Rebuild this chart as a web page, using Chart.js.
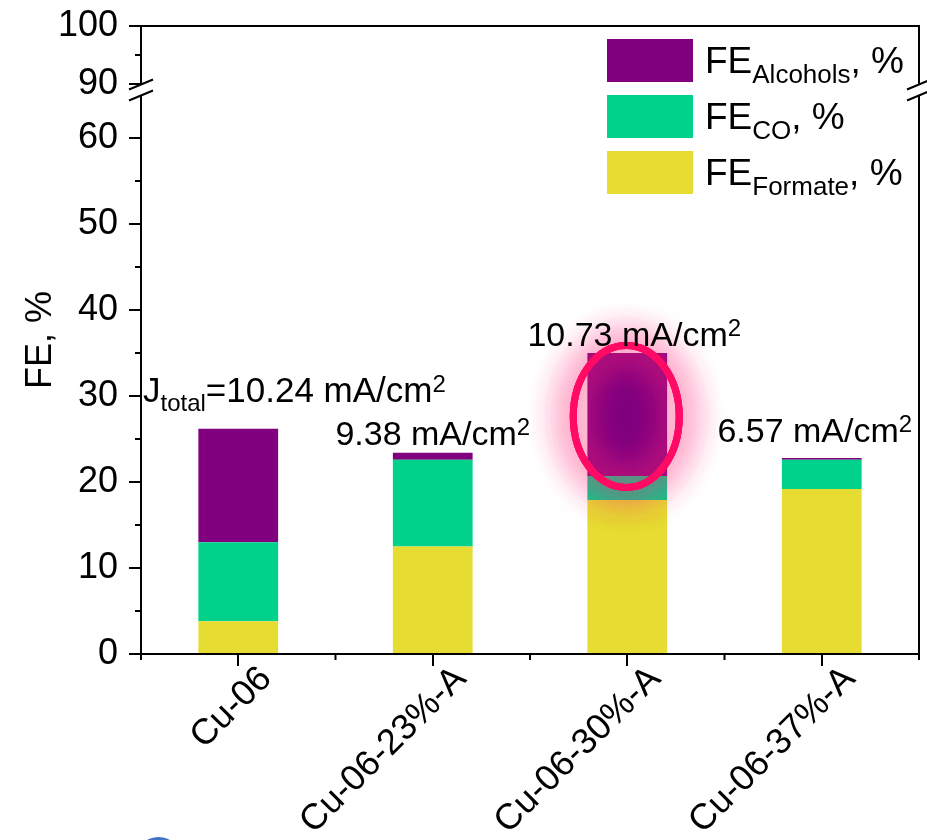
<!DOCTYPE html>
<html>
<head>
<meta charset="utf-8">
<script src="https://cdn.jsdelivr.net/npm/chart.js@4.4.1/dist/chart.umd.min.js"></script>
<style>
html, body { margin: 0; padding: 0; overflow: hidden; background: #fff; }
#wrap { width: 927px; height: 900px; }
</style>
</head>
<body>
<div id="wrap"><canvas id="chart" width="927" height="900"></canvas></div>
<script>
var categories = ['Cu-06', 'Cu-06-23%-A', 'Cu-06-30%-A', 'Cu-06-37%-A'];
var feFormate = [3.8, 12.5, 17.9, 19.2];
var feCO = [9.2, 10.1, 2.8, 3.4];
var feAlcohols = [13.2, 0.8, 14.3, 0.2];
var jTotal = [10.24, 9.38, 10.73, 6.57];
var yTicks = [0, 10, 20, 30, 40, 50, 60];
var yMinor = [5, 15, 25, 35, 45, 55];
var y2Ticks = [90, 100];
var y2Minor = [95];

var FONT = 'Arial, "Liberation Sans", sans-serif';

// split "FE_{CO}, %" into plain / sub / sup pieces
function parseRich(str) {
    var parts = [], re = /([_^])\{([^}]*)\}/g, last = 0, m;
    while ((m = re.exec(str))) {
        if (m.index > last) parts.push({ t: str.slice(last, m.index), k: '' });
        parts.push({ t: m[2], k: m[1] });
        last = re.lastIndex;
    }
    if (last < str.length) parts.push({ t: str.slice(last), k: '' });
    return parts;
}

function drawRich(ctx, str, x, y, size, small, align) {
    var parts = parseRich(str), w = 0;
    parts.forEach(function (p) {
        ctx.font = (p.k ? small : size) + 'px ' + FONT;
        p.w = ctx.measureText(p.t).width;
        w += p.w;
    });
    if (align === 'center') x -= w / 2;
    ctx.textAlign = 'left';
    ctx.textBaseline = 'alphabetic';
    parts.forEach(function (p) {
        ctx.font = (p.k ? small : size) + 'px ' + FONT;
        var dy = p.k === '_' ? size * 0.27 : (p.k === '^' ? -size * 0.29 : 0);
        ctx.fillText(p.t, x, y + dy);
        x += p.w;
    });
}

function breakMark(ctx, x, y) {
    var dx = 12, dy = 5, gap = 5.5;
    ctx.fillStyle = '#fff';
    ctx.beginPath();
    ctx.moveTo(x - dx, y - gap + dy);
    ctx.lineTo(x + dx, y - gap - dy);
    ctx.lineTo(x + dx, y + gap - dy);
    ctx.lineTo(x - dx, y + gap + dy);
    ctx.closePath();
    ctx.fill();
    ctx.strokeStyle = '#000';
    ctx.lineWidth = 2;
    ctx.beginPath();
    ctx.moveTo(x - dx, y - gap + dy); ctx.lineTo(x + dx, y - gap - dy);
    ctx.moveTo(x - dx, y + gap + dy); ctx.lineTo(x + dx, y + gap - dy);
    ctx.stroke();
}

/* highlight ring + current density notes */
var notes = {
    id: 'notes',
    afterDatasetsDraw: function (chart, args, opts) {
        var ctx = chart.ctx;
        var tops = chart.getDatasetMeta(2).data;
        var hl = tops[opts.highlight];

        ctx.save();
        ctx.strokeStyle = '#ff0a64';
        ctx.lineWidth = 7;
        ctx.shadowColor = 'rgba(255, 40, 120, 0.85)';
        ctx.shadowBlur = 36;
        ctx.beginPath();
        ctx.ellipse(hl.x - 1, (hl.y + hl.base) / 2 + 2, 53, 71, 0, 0, Math.PI * 2);
        ctx.stroke();
        ctx.stroke();
        ctx.stroke();
        ctx.restore();

        ctx.save();
        ctx.fillStyle = '#000';
        jTotal.forEach(function (j, i) {
            var bar = tops[i];
            var txt = j.toFixed(2) + ' mA/cm^{2}';
            var y = bar.y - opts.gap[i];
            if (i === 0) drawRich(ctx, 'J_{total}=' + txt, chart.chartArea.left + 2, y, 35, 24, 'left');
            else drawRich(ctx, txt, bar.x + opts.shift[i], y, 34, 24, 'center');
        });
        ctx.restore();
    }
};

/* frame, axis breaks, minor ticks, title and legend */
var frame = {
    id: 'frame',
    afterDraw: function (chart) {
        var ctx = chart.ctx, a = chart.chartArea;
        var y = chart.scales.y, y2 = chart.scales.y2, x = chart.scales.x;
        var brk = y.top;
        var top = y2.getPixelForValue(100);

        ctx.save();
        ctx.strokeStyle = '#000';
        ctx.lineWidth = 2;
        ctx.beginPath();
        ctx.moveTo(a.left - 12, top);
        ctx.lineTo(a.right + 1, top);
        ctx.moveTo(a.right, top);
        ctx.lineTo(a.right, a.bottom);
        ctx.stroke();

        // minor ticks
        ctx.beginPath();
        yMinor.forEach(function (v) {
            var p = y.getPixelForValue(v);
            ctx.moveTo(a.left - 6, p); ctx.lineTo(a.left, p);
        });
        y2Minor.forEach(function (v) {
            var p = y2.getPixelForValue(v);
            ctx.moveTo(a.left - 6, p); ctx.lineTo(a.left, p);
        });
        for (var i = 0; i <= categories.length; i++) {
            var px = x.getPixelForValue(i - 0.5);
            ctx.moveTo(px, a.bottom); ctx.lineTo(px, a.bottom + 6);
        }
        ctx.stroke();

        breakMark(ctx, a.left, brk);
        breakMark(ctx, a.right, brk);

        // axis title
        ctx.fillStyle = '#000';
        ctx.save();
        ctx.translate(41, (a.top + a.bottom) / 2);
        ctx.rotate(-Math.PI / 2);
        ctx.font = '36px ' + FONT;
        ctx.textAlign = 'center';
        ctx.textBaseline = 'middle';
        ctx.fillText('FE, %', 0, 0);
        ctx.restore();

        // legend, top series first
        var lx = a.right - 312, ly = 39;
        chart.data.datasets.slice().reverse().forEach(function (ds, k) {
            var by = ly + k * 56;
            ctx.fillStyle = ds.backgroundColor;
            ctx.fillRect(lx, by, 86, 43);
            ctx.fillStyle = '#000';
            drawRich(ctx, ds.label, lx + 98, by + 34, 37, 26, 'left');
        });

        // stray blue marker at the lower edge of the figure
        ctx.fillStyle = '#4472c4';
        ctx.beginPath();
        ctx.arc(158.5, 860.5, 23.5, 0, Math.PI * 2);
        ctx.fill();
        ctx.restore();
    }
};

var axisGrid = {
    drawOnChartArea: false,
    color: '#000',
    lineWidth: 2,
    tickLength: 12,
    tickWidth: 2
};

var tickFont = { family: FONT, size: 36 };

// keep the plot area where the padding puts it, not where the end labels would push it
function fitLeft(s) {
    s.width = 141;
    s.paddingTop = 0;
    s.paddingBottom = 0;
}

var ctx = document.getElementById('chart').getContext('2d');
var chart = new Chart(ctx, {
    type: 'bar',
    data: {
        labels: categories,
        datasets: [
            { label: 'FE_{Formate}, %', data: feFormate, backgroundColor: '#e6dc32' },
            { label: 'FE_{CO}, %', data: feCO, backgroundColor: '#00d28c' },
            { label: 'FE_{Alcohols}, %', data: feAlcohols, backgroundColor: '#800080' }
        ]
    },
    options: {
        responsive: false,
        animation: false,
        barPercentage: 0.41,
        categoryPercentage: 1,
        layout: { padding: { top: 26, right: 8, left: 0, bottom: 0 } },
        plugins: {
            legend: { display: false },
            tooltip: { enabled: false },
            notes: { highlight: 2, gap: [27, 8, 7, 16], shift: [0, 0, 7, -7] }
        },
        scales: {
            x: {
                stacked: true,
                grid: Object.assign({}, axisGrid, { offset: false }),
                border: { color: '#000', width: 2 },
                ticks: {
                    font: tickFont, color: '#000',
                    maxRotation: 45, minRotation: 45,
                    autoSkip: false, padding: -8, labelOffset: 28
                },
                afterFit: function (s) { s.height = 246; }
            },
            y: {
                stacked: true,
                position: 'left',
                stack: 'fe',
                stackWeight: 564,
                min: 0,
                max: 65.58,
                grid: axisGrid,
                border: { color: '#000', width: 2 },
                ticks: { font: tickFont, color: '#000', padding: 11, autoSkip: false },
                afterBuildTicks: function (s) { s.ticks = yTicks.map(function (v) { return { value: v }; }); },
                afterFit: fitLeft
            },
            y2: {
                type: 'linear',
                position: 'left',
                stack: 'fe',
                stackWeight: 64,
                min: 88.97,
                max: 100,
                grid: axisGrid,
                border: { color: '#000', width: 2 },
                ticks: { font: tickFont, color: '#000', padding: 11, autoSkip: false },
                afterBuildTicks: function (s) { s.ticks = y2Ticks.map(function (v) { return { value: v }; }); },
                afterFit: fitLeft
            }
        }
    },
    plugins: [notes, frame]
});
</script>
</body>
</html>
